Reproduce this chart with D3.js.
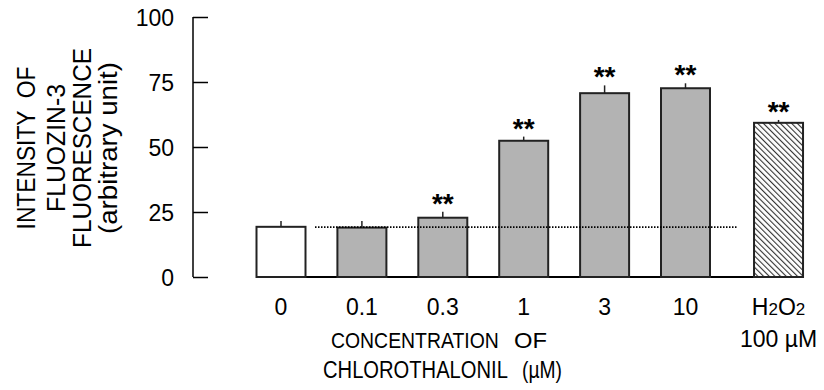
<!DOCTYPE html>
<html>
<head>
<meta charset="utf-8">
<script src="https://cdn.jsdelivr.net/npm/d3@7"></script>
<style>
  body { margin: 0; background: #fff; }
  svg { font-family: "Liberation Sans", Arial, sans-serif; }
</style>
</head>
<body>
<svg id="chart" width="824" height="390"></svg>
<script>
// values
const groups = ["0", "0.1", "0.3", "1", "3", "10", "H2O2"];
const means  = [19.3, 19.0, 22.8, 52.4, 70.7, 72.6, 59.3];
const upper  = [21.5, 21.5, 25.1, 54.0, 73.7, 74.5, 60.4];
const stars  = ["", "", "**", "**", "**", "**", "**"];
const yTicks = [0, 25, 50, 75, 100];
const controlLevel = 19.2;

const svg = d3.select("#chart");

const y = d3.scaleLinear().domain([0, 100]).range([277, 17]);
// bar slots, the H2O2 bar sits a little further out
const slot = i => (i < 6 ? i : i + 0.15);
const x = d3.scaleLinear().domain([0, 5]).range([281, 685.5]);
const barW = 49;

// hatch for the H2O2 bar
const defs = svg.append("defs");
const pat = defs.append("pattern")
  .attr("id", "hatch")
  .attr("patternUnits", "userSpaceOnUse")
  .attr("width", 4).attr("height", 4)
  .attr("patternTransform", "rotate(-45)");
pat.append("rect").attr("width", 4).attr("height", 4).attr("fill", "#fff");
pat.append("line")
  .attr("x1", 0).attr("y1", 0).attr("x2", 0).attr("y2", 4)
  .attr("stroke", "#333").attr("stroke-width", 2.2);

// y axis (ticks point inward)
const yAxis = d3.axisRight(y).tickValues(yTicks).tickSize(15).tickFormat("");
const ya = svg.append("g").attr("transform", "translate(193,0)").call(yAxis);
ya.select(".domain").attr("stroke", "#000").attr("stroke-width", 1.5).attr("d", "M0,17V277");
ya.selectAll(".tick line").attr("stroke", "#000").attr("stroke-width", 1.5);

svg.append("g").selectAll("text")
  .data(yTicks)
  .join("text")
  .attr("x", 174)
  .attr("y", d => y(d) + 8.5)
  .attr("text-anchor", "end")
  .attr("font-size", 23)
  .text(d => d);

// baseline under the bars
svg.append("line")
  .attr("x1", x(0) - barW / 2).attr("x2", x(slot(6)) + barW / 2)
  .attr("y1", y(0)).attr("y2", y(0))
  .attr("stroke", "#000").attr("stroke-width", 2);

// bars
svg.append("g").selectAll("rect")
  .data(means)
  .join("rect")
  .attr("x", (d, i) => x(slot(i)) - barW / 2)
  .attr("y", d => y(d))
  .attr("width", barW)
  .attr("height", d => y(0) - y(d))
  .attr("fill", (d, i) => i === 0 ? "#fff" : (i === 6 ? "url(#hatch)" : "#b3b3b3"))
  .attr("stroke", "#222")
  .attr("stroke-width", 2);

// upper error whiskers
svg.append("g").selectAll("line")
  .data(means)
  .join("line")
  .attr("x1", (d, i) => x(slot(i))).attr("x2", (d, i) => x(slot(i)))
  .attr("y1", d => y(d)).attr("y2", (d, i) => y(upper[i]))
  .attr("stroke", "#222").attr("stroke-width", 1.5);

// dotted control level
svg.append("line")
  .attr("x1", 315).attr("x2", 738)
  .attr("y1", y(controlLevel)).attr("y2", y(controlLevel))
  .attr("stroke", "#000").attr("stroke-width", 1.6)
  .attr("stroke-dasharray", "1.5,1.5");

// significance marks
svg.append("g").selectAll("text")
  .data(stars)
  .join("text")
  .attr("x", (d, i) => x(slot(i)))
  .attr("y", (d, i) => y(upper[i]) + 1)
  .attr("text-anchor", "middle")
  .attr("font-size", 28)
  .attr("font-weight", "bold")
  .text(d => d);

// x tick labels
const xl = svg.append("g").selectAll("text")
  .data(groups)
  .join("text")
  .attr("x", (d, i) => x(slot(i)))
  .attr("y", 315)
  .attr("text-anchor", "middle")
  .attr("font-size", 23);
xl.filter(d => d !== "H2O2").text(d => d);
const h = xl.filter(d => d === "H2O2");
h.append("tspan").text("H");
h.append("tspan").attr("font-size", 17).text("2");
h.append("tspan").text("O");
h.append("tspan").attr("font-size", 17).text("2");
svg.append("text")
  .attr("x", x(slot(6))).attr("y", 347)
  .attr("text-anchor", "middle").attr("font-size", 23)
  .text("100 \u00b5M");

// the original face is narrower than Arial: squeeze each text to its width
function squeeze(sel, place) {
  sel.each(function (d, i) {
    const len = this.getComputedTextLength();
    d3.select(this).attr("transform", place(d, i) + ` scale(${d.w / len},1)`);
  });
}

// x axis title, word by word
const titleWords = [
  { t: "CONCENTRATION", x: 331, y: 348, w: 168 },
  { t: "OF", x: 514, y: 348, w: 33 },
  { t: "CHLOROTHALONIL", x: 323, y: 378, w: 185 },
  { t: "(\u00b5M)", x: 522, y: 378, w: 40 }
];
svg.append("g").selectAll("text")
  .data(titleWords)
  .join("text")
  .attr("font-size", 23)
  .text(d => d.t)
  .call(squeeze, d => `translate(${d.x},${d.y})`);

// y axis title
const yLines = [
  { t: "INTENSITY  OF", x: 35, w: 163 },
  { t: "FLUOZIN-3", x: 65, w: 128 },
  { t: "FLUORESCENCE", x: 91, w: 200 },
  { t: "(arbitrary unit)", x: 117, w: 172 }
];
svg.append("g").selectAll("text")
  .data(yLines)
  .join("text")
  .attr("text-anchor", "middle")
  .attr("font-size", 26)
  .attr("xml:space", "preserve")
  .text(d => d.t)
  .call(squeeze, d => `translate(${d.x},148) rotate(-90)`);
</script>
</body>
</html>
